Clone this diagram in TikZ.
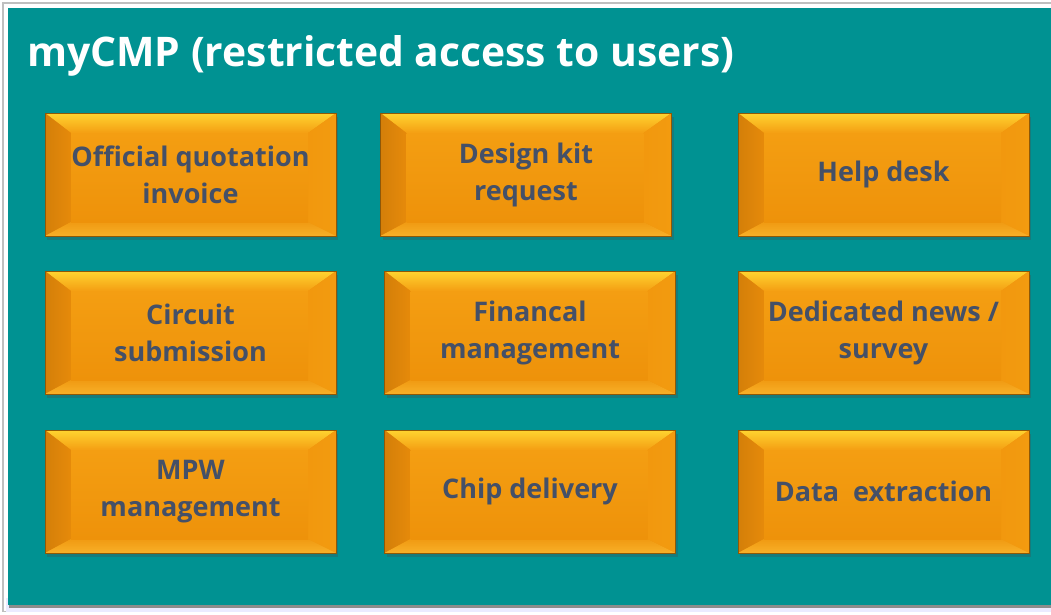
\documentclass[tikz,border=0pt]{standalone}
\usepackage{fontspec}
\setmainfont{Open Sans}
\usetikzlibrary{shadows}
\definecolor{teal0}{RGB}{0,146,146}
\definecolor{orA}{RGB}{238,146,10}
\definecolor{orTopA}{RGB}{255,212,48}
\definecolor{orTopB}{RGB}{244,158,18}
\definecolor{orLeft}{RGB}{230,138,10}
\definecolor{orRight}{RGB}{242,152,14}
\definecolor{orBot}{RGB}{240,154,18}
\definecolor{orBotB}{RGB}{248,176,40}
\definecolor{txt}{RGB}{68,80,104}
\tikzset{
  bevelbox/.style={rectangle, inner sep=0pt, minimum width=291pt, minimum height=123pt,
    align=center, text=txt, font=\bfseries\fontsize{27}{37}\selectfont,
    fill=orA, draw=orA!60!black, line width=0.5pt,
    drop shadow={shadow xshift=2pt, shadow yshift=-4pt, opacity=0.3, fill=black!70},
    path picture={
      \coordinate (nw) at (path picture bounding box.north west);
      \coordinate (ne) at (path picture bounding box.north east);
      \coordinate (sw) at (path picture bounding box.south west);
      \coordinate (se) at (path picture bounding box.south east);
      \shade[top color=orTopA, bottom color=orTopB] (nw) -- (ne) -- ([shift={(-28pt,-20pt)}]ne) -- ([shift={(26pt,-20pt)}]nw) -- cycle;
      \shade[left color=orLeft!92!black, right color=orLeft] (nw) -- ([shift={(26pt,-20pt)}]nw) -- ([shift={(26pt,14pt)}]sw) -- (sw) -- cycle;
      \shade[left color=orRight, right color=orRight!95!orTopA] (ne) -- ([shift={(-28pt,-20pt)}]ne) -- ([shift={(-28pt,14pt)}]se) -- (se) -- cycle;
      \shade[top color=orBot, bottom color=orBotB] (sw) -- ([shift={(26pt,14pt)}]sw) -- ([shift={(-28pt,14pt)}]se) -- (se) -- cycle;
      \shade[top color=orTopB, bottom color=orA] ([shift={(26pt,-20pt)}]nw) rectangle ([shift={(-28pt,14pt)}]se);
    }},
}
\begin{document}
\begin{tikzpicture}[x=1pt,y=-1pt]
\useasboundingbox (0,0) rectangle (1051,614);
\fill[white] (0,0) rectangle (1051,614);
\fill[black!25] (2,2) rectangle (1051,612);
\fill[white] (3.5,3.5) rectangle (1051,610.5);
\fill[blue!8!white] (6,598) rectangle (1051,612);
\fill[black!45] (9,10) rectangle (1051,608);
\node[draw=none, fill=teal0, minimum width=1050pt, minimum height=597pt, inner sep=0pt, anchor=north west] (panel) at (8,8) {};
\node[anchor=base west, text=white, font=\bfseries\fontsize{40.8}{42}\selectfont, inner sep=0pt] (title) at (27,66) {myCMP (restricted access to users)};

\node[bevelbox] (b11) at (190.5,174.5) {Official quotation\\invoice};
\node[bevelbox] (b12) at (526,174.5) {Design kit\\request};
\node[bevelbox] (b13) at (883.5,174.5) {Help desk};
\node[bevelbox] (b21) at (190.5,332.5) {Circuit\\submission};
\node[bevelbox] (b22) at (530,332.5) {Financal\\management};
\node[bevelbox] (b23) at (883.5,332.5) {Dedicated news /\\survey};
\node[bevelbox] (b31) at (190.5,491.5) {MPW\\management};
\node[bevelbox] (b32) at (530,491.5) {Chip delivery};
\node[bevelbox] (b33) at (883.5,491.5) {Data\ \ extraction};
\end{tikzpicture}
\end{document}
